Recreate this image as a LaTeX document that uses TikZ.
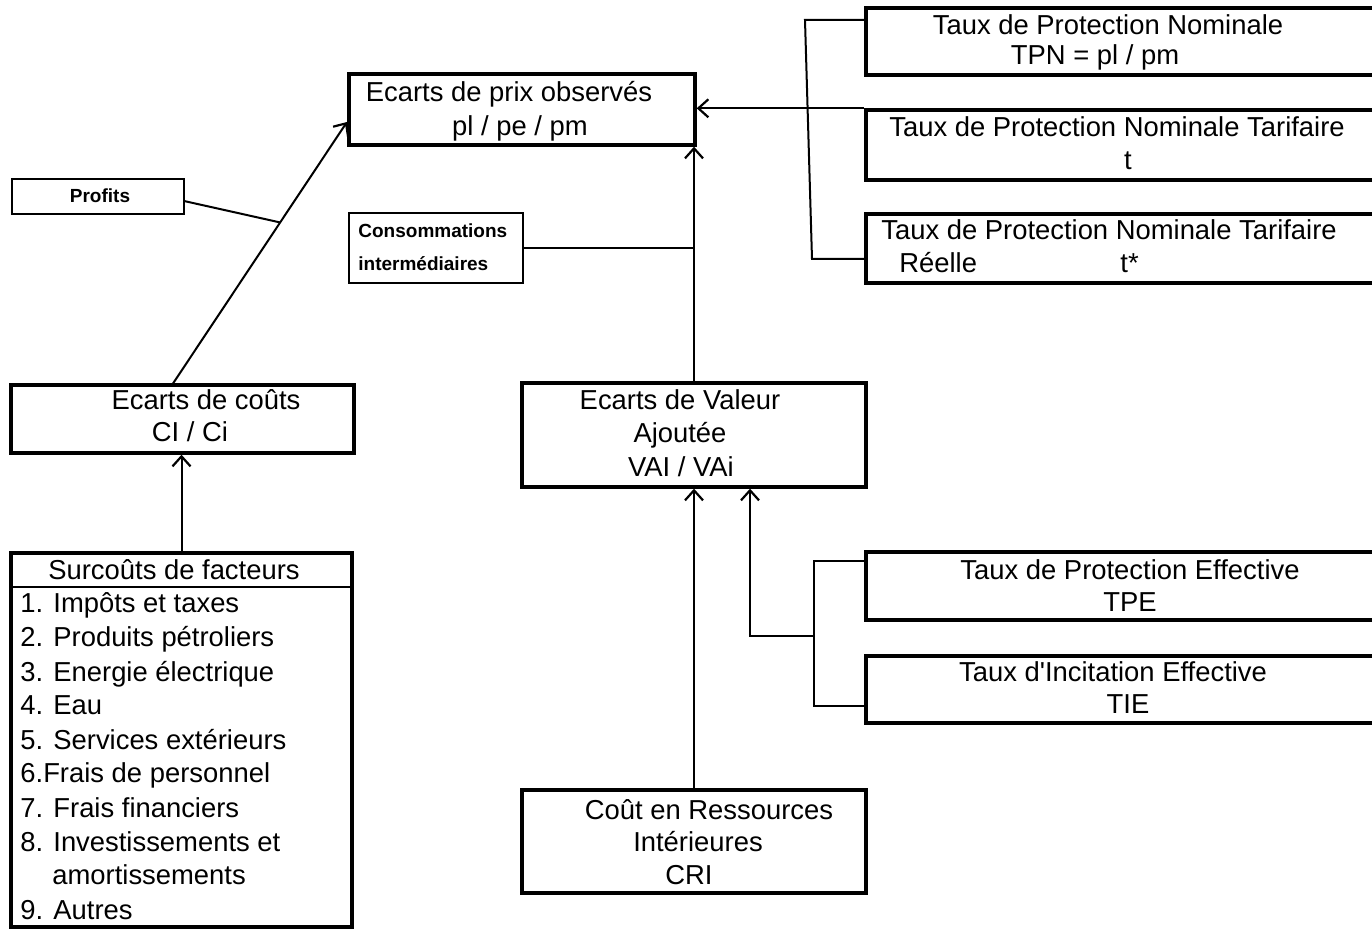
\documentclass[tikz,border=0pt]{standalone}
\usepackage{fontspec}
\setmainfont{Liberation Sans}[Ligatures=TeXOff]
\usetikzlibrary{arrows.meta,calc}
\begin{document}
\begin{tikzpicture}[x=0.5pt,y=-0.5pt,
  box/.style={draw,line width=1.7pt,inner sep=0pt,rectangle},
  sbox/.style={draw,line width=1.3pt,inner sep=0pt,rectangle},
  txt/.style={anchor=base,inner sep=0pt,font=\fontsize{13.7pt}{16pt}\selectfont},
  ltxt/.style={anchor=base west,inner sep=0pt,font=\fontsize{13.7pt}{16pt}\selectfont},
  stxt/.style={anchor=base,inner sep=0pt,font=\bfseries\fontsize{9.5pt}{11pt}\selectfont},
  sltxt/.style={anchor=base west,inner sep=0pt,font=\bfseries\fontsize{9.5pt}{11pt}\selectfont},
  con/.style={line width=1pt},
  arr/.style={line width=1pt,-{Straight Barb[length=5pt,width=9pt,line width=1.1pt]}}]
\useasboundingbox (0,0) rectangle (1372,929);
\clip (0,0) rectangle (1372,929);
% boxes
\node[box,minimum width=173pt,minimum height=35.5pt] (prix) at (522,109.5) {};
\node[box,minimum width=257pt,minimum height=33.5pt] (tpn) at (1123,41.5) {};
\node[box,minimum width=257pt,minimum height=35pt] (tpnt) at (1123,145) {};
\node[box,minimum width=257pt,minimum height=34.5pt] (tpnr) at (1123,248.5) {};
\node[sbox,minimum width=86pt,minimum height=17.5pt] (profits) at (98,196.5) {};
\node[sbox,minimum width=87pt,minimum height=35pt] (ci) at (436,248) {};
\node[box,minimum width=171.5pt,minimum height=34pt] (couts) at (182.5,419) {};
\node[box,minimum width=172pt,minimum height=52pt] (va) at (694,435) {};
\node[box,minimum width=170.5pt,minimum height=187pt] (sur) at (181.5,740) {};
\node[box,minimum width=257pt,minimum height=34pt] (tpe) at (1123,586) {};
\node[box,minimum width=257pt,minimum height=33.5pt] (tie) at (1123,689.5) {};
\node[box,minimum width=172pt,minimum height=51.5pt] (cri) at (694,841.5) {};
\coordinate (sep) at (0,587);
\draw[line width=1.3pt] (sur.west |- sep) -- (sur.east |- sep);
% texts
\node[txt] (t1) at (509,102) {Ecarts de prix observés};
\node[txt] (t2) at (520,136) {pl / pe / pm};
\node[txt] (t3) at (1108,35) {Taux de Protection Nominale};
\node[txt] (t4) at (1095,65) {TPN = pl / pm};
\node[txt] (t5) at (1117,137) {Taux de Protection Nominale Tarifaire};
\node[txt] (t6) at (1128,170) {t};
\node[txt] (t7) at (1109,240) {Taux de Protection Nominale Tarifaire};
\node[ltxt] (t8) at (899,273) {Réelle};
\node[ltxt] (t9) at (1120,273) {t*};
\node[stxt] (t10) at (100,203) {Profits};
\node[sltxt] (t11) at (358,238) {Consommations};
\node[sltxt] (t12) at (358,271) {intermédiaires};
\node[txt] (t13) at (206,410) {Ecarts de coûts};
\node[txt] (t14) at (190,442) {CI / Ci};
\node[txt] (t15) at (680,410) {Ecarts de Valeur};
\node[txt] (t16) at (680,443) {Ajoutée};
\node[txt] (t17) at (681,477) {VAI / VAi};
\node[txt] (t18) at (174,580) {Surcoûts de facteurs};
\node[ltxt] (l1) at (20,613) {1. Impôts et taxes};
\node[ltxt] (l2) at (20,647) {2. Produits pétroliers};
\node[ltxt] (l3) at (20,682) {3. Energie électrique};
\node[ltxt] (l4) at (20,715) {4. Eau};
\node[ltxt] (l5) at (20,750) {5. Services extérieurs};
\node[ltxt] (l6) at (20,783) {6.Frais de personnel};
\node[ltxt] (l7) at (20,818) {7. Frais financiers};
\node[ltxt] (l8) at (20,852) {8. Investissements et};
\node[ltxt] (l8b) at (52,885) {amortissements};
\node[ltxt] (l9) at (20,920) {9. Autres};
\node[txt] (t19) at (1130,580) {Taux de Protection Effective};
\node[txt] (t20) at (1130,612) {TPE};
\node[txt] (t21) at (1113,682) {Taux d'Incitation Effective};
\node[txt] (t22) at (1128,714) {TIE};
\node[txt] (t23) at (709,820) {Coût en Ressources};
\node[txt] (t24) at (698,852) {Intérieures};
\node[txt] (t25) at (689,885) {CRI};
% connectors
\coordinate (d1) at (172,385);
\coordinate (d2) at (347,122);
\draw[arr] (d1) -- (d2);
\coordinate (pe) at (184,201);
\draw[con] (pe) -- ($(d1)!0.618!(d2)$);
\draw[arr] (sur.north) -- (sur.north |- couts.south);
\draw[arr] (va.north) -- (va.north |- prix.south);
\draw[con] (ci.east) -- (ci.east -| va.north);
\draw[arr] (tpnt.north west) -- (tpnt.north west -| prix.east);
\coordinate (b1) at (805,20);
\coordinate (b2) at (812,259);
\draw[con] (b1 -| tpn.west) -- (b1) -- (b2) -- (b2 -| tpnr.west);
\draw[arr] (cri.north) -- (cri.north |- va.south);
\coordinate (e1) at (814,561);
\coordinate (e2) at (814,706);
\draw[con] (e1 -| tpe.west) -- (e1) -- (e2) -- (e2 -| tie.west);
\coordinate (m1) at (814,636);
\coordinate (m2) at (750,636);
\draw[arr] (m1) -- (m2) -- (m2 |- va.south);
\end{tikzpicture}
\end{document}
